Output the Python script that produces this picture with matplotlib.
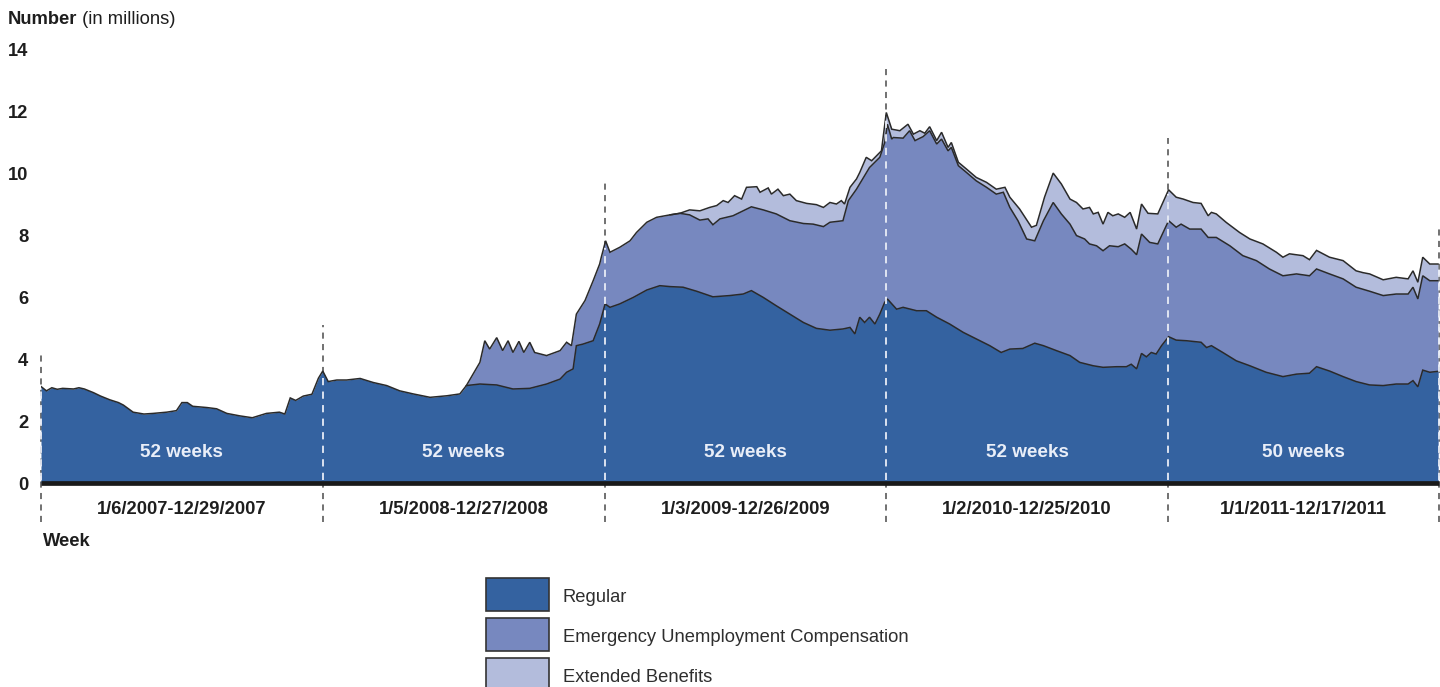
import numpy as np
import matplotlib
matplotlib.use("Agg")
import matplotlib.pyplot as plt
from matplotlib.patches import Rectangle

plt.rcParams['font.family'] = ['Liberation Sans', 'DejaVu Sans']

# ---------------- data (week index since 1/6/2007, millions of people) -------------
# Regular benefits (bottom layer)
regular_week = [0, 1, 2, 3, 4, 6, 7, 8, 9.7, 11, 12.7, 14.3, 15.2, 17, 19, 20.7, 23.2, 25, 26, 27,
                28, 30.6, 32.4, 34.3, 36.7, 39, 41.6, 44, 45, 46, 47, 48.4, 50, 51.2, 52, 53,
                54.6, 56.4, 58.9, 61.3, 63.8, 66.2, 68.7, 71.8, 74.9, 77.3, 78.5, 81, 84.1, 87.1,
                90.2, 93.3, 95.8, 97, 98.2, 98.8, 100, 101.9, 103.1, 104.1,
                105, 106.8, 109.3, 111.8, 114.2, 116.1, 118.5, 121, 124, 127.1, 129.6, 131.1,
                133.3, 135.7, 138.2, 140.7, 143.1, 145.6, 148, 149.3, 150.2, 151.1, 152, 152.9,
                153.9, 154.8, 155.7, 156.2,
                157.9, 159.1, 161.6, 163.4, 165.3, 167.7, 170.2, 172.6, 175.1, 177.2, 178.8,
                181.2, 183.4, 185, 187.4, 189.9, 191.7, 194.2, 196, 198.5, 200.3, 201.2, 202.2,
                203.1, 204, 204.9, 205.8, 206.8, 208.1,
                209.5, 211.4, 214.1, 215.1, 216, 218.1, 220.6, 223.1, 226.1, 229.2, 231.7, 234.1,
                235.4, 237.8, 240.3, 242.7, 245.2, 247.7, 250.1, 252.3, 253.2, 254.1, 255, 256.3,
                257.8]
regular_level = [3.12, 2.98, 3.08, 3.03, 3.06, 3.04, 3.08, 3.04, 2.92, 2.81, 2.69, 2.6, 2.52, 2.29,
                 2.23, 2.25, 2.29, 2.34, 2.6, 2.6, 2.48, 2.44, 2.4, 2.25, 2.17, 2.11, 2.25, 2.29,
                 2.23, 2.75, 2.67, 2.81, 2.87, 3.39, 3.62, 3.28,
                 3.33, 3.33, 3.38, 3.25, 3.15, 2.98, 2.88, 2.77, 2.82, 2.88, 3.15, 3.2, 3.17, 3.04,
                 3.06, 3.2, 3.36, 3.58, 3.69, 4.44, 4.49, 4.6, 5.14, 5.79,
                 5.68, 5.79, 6.0, 6.24, 6.38, 6.35, 6.33, 6.2, 6.02, 6.06, 6.11, 6.22,
                 6.0, 5.73, 5.46, 5.19, 5.0, 4.94, 4.98, 5.03, 4.82, 5.36, 5.19, 5.36,
                 5.14, 5.46, 5.84, 5.95,
                 5.62, 5.68, 5.57, 5.57, 5.36, 5.14, 4.87, 4.66, 4.44, 4.22, 4.33,
                 4.35, 4.52, 4.44, 4.28, 4.12, 3.9, 3.79, 3.74, 3.76, 3.76, 3.84, 3.69,
                 4.19, 4.08, 4.22, 4.17, 4.44, 4.73,
                 4.62, 4.6, 4.55, 4.38, 4.44, 4.22, 3.95, 3.79, 3.58, 3.44, 3.52, 3.55,
                 3.76, 3.62, 3.44, 3.28, 3.17, 3.15, 3.2, 3.2, 3.31, 3.11, 3.65, 3.58,
                 3.61]

# Regular + Emergency Unemployment Compensation (top of middle layer)
euc_week = [78.5, 81, 81.9, 82.8, 84.1, 85.2, 86.2, 87.1, 88.2, 89.1, 90.2, 91.1, 93.3, 95.8, 97,
            97.9, 98.8, 100.4, 101.9, 103.1, 103.4, 104.2, 105, 106.8, 108.7, 109.9, 111.8, 113.6,
            116.1, 117.9, 119.7, 121.6, 123.1, 124, 125.3, 127.7, 131.1, 133.3, 135.7, 138.2,
            140.7, 142.5, 144.4, 145.6, 148, 149, 150.5, 152.9, 154.8, 155.7, 156.2, 157, 157.3,
            159.1, 160.3, 161.3, 162.8, 164, 165.3, 166.2, 167.4, 168, 169.3, 170.8, 172.6,
            174.5, 176.3, 177.6, 178.8, 180.3, 181.9, 183.4, 185, 186.8, 188.3, 189.9, 191.1,
            192.6, 193.5, 194.8, 196, 197.2, 198.8, 200, 201.2, 202.2, 203.1, 204.6, 206.1,
            208.1, 209.5, 210.4, 212, 214.1, 215.4, 216.9, 219.4, 221.8, 224.3, 226.7, 229.2,
            231.7, 234.1, 235.4, 237.8, 240.3, 242.7, 245.2, 247.7, 250.1, 252.3, 253.2, 254.1,
            255, 256.3, 257.8]
euc_level = [3.15, 3.9, 4.6, 4.33, 4.7, 4.28, 4.6, 4.22, 4.58, 4.22, 4.55, 4.22, 4.12, 4.28, 4.55,
             4.44, 5.46, 5.9, 6.54, 7.08, 7.3, 7.83, 7.46, 7.62, 7.83, 8.1, 8.43, 8.59,
             8.67, 8.72, 8.67, 8.5, 8.54, 8.35, 8.54, 8.64, 8.93, 8.83, 8.7, 8.48,
             8.39, 8.37, 8.29, 8.43, 8.48, 9.13, 9.5, 10.2, 10.53, 11.0, 11.6, 11.12, 11.17,
             11.15, 11.39, 11.07, 11.2, 11.39, 10.96, 11.12, 10.74, 10.85, 10.26, 10.04, 9.77,
             9.56, 9.34, 9.4, 8.91, 8.48, 7.89, 7.83, 8.48, 9.07, 8.7, 8.37, 8.0,
             7.89, 7.73, 7.67, 7.51, 7.67, 7.64, 7.73, 7.56, 7.38, 8.05, 7.78, 7.73,
             8.48, 8.27, 8.37, 8.21, 8.21, 7.94, 7.94, 7.67, 7.35, 7.19, 6.92, 6.7,
             6.76, 6.7, 6.92, 6.76, 6.6, 6.33, 6.2, 6.06, 6.11, 6.11, 6.33, 5.95,
             6.7, 6.54, 6.54]

# Regular + EUC + Extended Benefits (total, top layer)
eb_week = [116.1, 117.9, 119.7, 121.6, 123.4, 124.7, 125.9, 126.8, 128, 129.3, 130.2, 132.1, 132.7,
           134.2, 134.8, 136, 137, 138.2, 139.4, 141.3, 143.1, 144.4, 145.6, 146.8, 147.7, 148.3,
           149.3, 150.5, 151.1, 152.3, 153.3, 154.2, 155.1, 156, 157, 158.5, 160, 161, 162.2,
           163.1, 164, 165.3, 166.2, 167.4, 168, 169.3, 170.8, 172.6, 174.5, 176.3, 177.9, 178.8,
           180.6, 182.8, 183.7, 185.2, 186.8, 188.3, 189.9, 191.1, 192.3, 193.5, 194.2, 195.1,
           196, 196.9, 197.8, 198.8, 200, 201, 202.2, 203.1, 204.3, 206.1, 208.1, 209.5, 210.8,
           212.6, 214.1, 215.4, 216, 216.9, 218.7, 221.2, 223.1, 225.5, 228, 229.2, 230.4, 232.9,
           234.1, 235.4, 237.8, 240.3, 242.7, 244, 245.2, 247.7, 250.1, 252.3, 253.2, 254.1, 255,
           256.3, 257.8]
eb_level = [8.67, 8.72, 8.83, 8.8, 8.91, 8.97, 9.13, 9.07, 9.29, 9.18, 9.56, 9.58, 9.4,
            9.54, 9.34, 9.5, 9.29, 9.34, 9.13, 9.04, 9.0, 8.91, 9.07, 9.02, 9.13, 9.02,
            9.56, 9.83, 10.04, 10.53, 10.42, 10.58, 10.74, 11.98, 11.44, 11.39, 11.6, 11.28, 11.39,
            11.31, 11.52, 11.07, 11.34, 10.85, 11.01, 10.37, 10.15, 9.88, 9.72, 9.5, 9.56, 9.24,
            8.86, 8.27, 8.33, 9.24, 10.02, 9.67, 9.18, 9.07, 8.86, 8.91, 8.7, 8.75,
            8.37, 8.75, 8.64, 8.7, 8.59, 8.75, 8.21, 9.02, 8.72, 8.7, 9.48, 9.24, 9.18,
            9.07, 9.04, 8.64, 8.75, 8.7, 8.43, 8.1, 7.89, 7.73, 7.46, 7.3, 7.41, 7.35,
            7.22, 7.52, 7.3, 7.19, 6.86, 6.8, 6.76, 6.57, 6.65, 6.6, 6.86, 6.49, 7.3,
            7.08, 7.08]

year_bounds = [0, 52, 104, 156, 208, 258]
year_labels = ['1/6/2007-12/29/2007', '1/5/2008-12/27/2008', '1/3/2009-12/26/2009',
               '1/2/2010-12/25/2010', '1/1/2011-12/17/2011']
year_weeks = ['52 weeks', '52 weeks', '52 weeks', '52 weeks', '50 weeks']
series_names = ['Regular', 'Emergency Unemployment Compensation', 'Extended Benefits']

# ---------------- style ----------------
C_REG = '#3462a0'
C_EUC = '#7788bf'
C_EB = '#b3bcdc'
C_EDGE = '#2a2a2a'
TXT = '#1e1e1e'
FS = 13.2

fig = plt.figure(figsize=(14.4, 6.87), dpi=100)
W, H = 1440, 687
ax = fig.add_axes([41 / W, (H - 483) / H, 1398 / W, 433 / H])
ax.set_xlim(0, 258)
ax.set_ylim(0, 14)
for s in ax.spines.values():
    s.set_visible(False)
ax.set_xticks([])
ax.set_yticks(range(0, 15, 2))
ax.set_yticklabels([str(v) for v in range(0, 15, 2)], fontsize=FS, fontweight='bold', color=TXT)
ax.tick_params(axis='y', length=0, pad=9)
ax.patch.set_alpha(0)

# stacked layers (drawn back to front)
ax.fill_between(eb_week, eb_level, 0, color=C_EB, lw=0, zorder=2)
ax.fill_between(euc_week, euc_level, 0, color=C_EUC, lw=0, zorder=3)
ax.fill_between(regular_week, regular_level, 0, color=C_REG, lw=0, zorder=4)
ax.plot(eb_week, eb_level, color=C_EDGE, lw=1.1, zorder=5, solid_joinstyle='miter')
ax.plot(euc_week, euc_level, color=C_EDGE, lw=1.1, zorder=5, solid_joinstyle='miter')
ax.plot(regular_week, regular_level, color=C_EDGE, lw=1.1, zorder=5, solid_joinstyle='miter')


def envelope(b):
    vals = [np.interp(b, regular_week, regular_level)]
    for wk, lv in ((euc_week, euc_level), (eb_week, eb_level)):
        if wk[0] <= b <= wk[-1] + 0.5:
            vals.append(np.interp(b, wk, lv))
    return max(vals)


dash_tops = [4.24, 5.1, 9.7, 13.4, 11.15, 8.2]
for b, top in zip(year_bounds, dash_tops):
    ax.plot([b, b], [-1.25, top], color='#4a4a4a', lw=1.1, ls=(0, (4, 3.5)),
            clip_on=False, zorder=1)
    ax.plot([b, b], [0.1, envelope(b) - 0.1], color='#e8ecf6', lw=1.3, ls=(0, (4, 3.5)),
            clip_on=False, zorder=6)

# baseline
ax.plot([0, 258], [0, 0], color='#1a1a1a', lw=3.4, solid_capstyle='butt', zorder=7,
        clip_on=False)

# year labels and week counts
for i in range(5):
    mid = (year_bounds[i] + year_bounds[i + 1]) / 2
    ax.text(mid, -0.86, year_labels[i], ha='center', va='center', fontsize=FS,
            fontweight='bold', color=TXT, clip_on=False)
    ax.text(mid, 1.0, year_weeks[i], ha='center', va='center', fontsize=FS + 0.4,
            fontweight='bold', color='#e9eef8', zorder=8)

ax.text(0.3, -1.88, 'Week', ha='left', va='center', fontsize=FS, fontweight='bold',
        color=TXT, clip_on=False)

# y-axis title
t1 = fig.text(8 / W, 1 - 20 / H, 'Number', ha='left', va='center', fontsize=FS,
              fontweight='bold', color=TXT)
ax.annotate(' (in millions)', xy=(1, 0), xycoords=t1, ha='left', va='bottom',
            fontsize=FS, color=TXT)

# legend
colors = [C_REG, C_EUC, C_EB]
for i, (name, col) in enumerate(zip(series_names, colors)):
    y_top = 578 + 40 * i
    fig.patches.append(Rectangle((486 / W, 1 - (y_top + 33) / H), 63 / W, 33 / H,
                                 transform=fig.transFigure, facecolor=col,
                                 edgecolor='#333333', lw=1.2))
    fig.text(563 / W, 1 - (y_top + 19) / H, name, ha='left', va='center', fontsize=FS,
             color='#2e2e2e')

fig.savefig('out.png', dpi=100)
